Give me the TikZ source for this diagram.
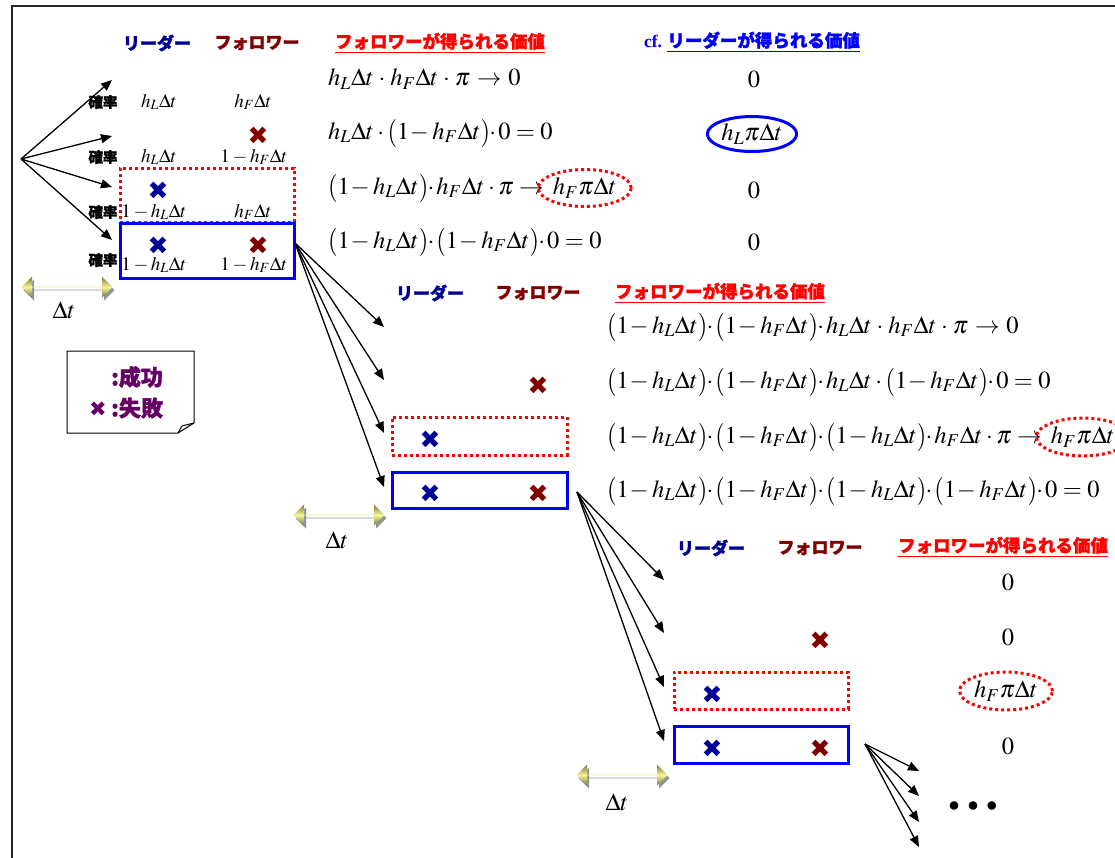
\documentclass[tikz,border=0pt]{standalone}
\usepackage{mathptmx}
\usepackage[no-math]{fontspec}
\setmainfont{Liberation Serif}
\newfontfamily\jp[BoldFeatures={FakeBold=1.6}]{Noto Sans CJK JP}
\newfontfamily\dvs{DejaVu Sans}
\usetikzlibrary{shapes.geometric,shapes.arrows,shadows,arrows.meta}
\definecolor{navy}{RGB}{0,0,150}
\definecolor{dred}{RGB}{128,0,0}
\definecolor{lpurple}{RGB}{102,0,102}
\definecolor{olivec}{RGB}{120,120,55}
\definecolor{palec}{RGB}{245,245,150}
\newcommand{\dT}{\Delta t}
\newcommand{\lp}{\mathopen{\vcenter{\hbox{\scalebox{1}[1.15]{$($}}}}}
\newcommand{\rp}{\mathclose{\vcenter{\hbox{\scalebox{1}[1.15]{$)$}}}}}
\newcommand{\pd}{\mkern-3mu\cdot\mkern-1mu}
\newcommand{\mn}{\mkern-2mu-}
\newcommand{\md}{\mkern1mu\cdot\mkern1mu}
\newcommand{\ar}{\mkern1mu\rightarrow\mkern1mu}
\tikzset{
  hdr/.style={inner sep=0, font=\jp\bfseries\fontsize{17.5}{17.5}\selectfont},
  hdrL/.style={hdr, text=navy, font=\jp\bfseries\fontsize{17}{17}\selectfont},
  hdrF/.style={hdr, text=dred, font=\jp\bfseries\fontsize{17}{17}\selectfont},
  hdrV/.style={hdr, text=red},
  eq/.style={anchor=west, inner sep=0, font=\fontsize{24.5}{28}\selectfont},
  val/.style={inner sep=0, font=\fontsize{24.5}{28}\selectfont},
  colt/.style={inner sep=0, font=\fontsize{19}{22}\selectfont},
  prob/.style={inner sep=0, font=\jp\bfseries\fontsize{14.5}{15}\selectfont},
  crossL/.style={inner sep=0, font=\dvs\fontsize{25}{25}\selectfont, text=navy},
  crossF/.style={inner sep=0, font=\dvs\fontsize{25}{25}\selectfont, text=dred},
  redbox/.style={draw=red, line width=3pt, dash pattern=on 3pt off 3pt, minimum width=174pt, inner sep=0},
  bluebox/.style={draw=blue, line width=3pt, minimum width=174pt, inner sep=0},
  redell/.style={ellipse, draw=red, line width=3pt, dash pattern=on 3pt off 3pt, inner sep=1pt, font=\fontsize{24.5}{28}\selectfont},
  blueell/.style={ellipse, draw=blue, line width=3pt, inner sep=1pt, font=\fontsize{24.5}{28}\selectfont},
  arr/.style={-{Triangle[length=11pt,width=9pt]}, line width=1.3pt},
  dtarrow/.style={double arrow, double arrow head extend=5pt, minimum height=91pt, minimum width=21pt, inner sep=0,
     top color=olivec, bottom color=olivec!85!gray, middle color=palec, draw=none,
     drop shadow={shadow xshift=2pt, shadow yshift=-3pt, fill=gray!85, opacity=1}},
  dtlabel/.style={inner sep=0, font=\fontsize{24.5}{28}\selectfont},
  legtext/.style={inner sep=0, anchor=west, text=lpurple, font=\jp\bfseries\fontsize{22}{22}\selectfont},
}
\begin{document}
\begin{tikzpicture}[x=1pt,y=-1pt]
\useasboundingbox (0,0) rectangle (1115,857);
% frame
\draw[line width=2pt, black!85] (1120,6) -- (12,6) -- (12,862);

%%%%%%%% Tier 1
\node[hdrL] (h1L) at (157,43) {リーダー};
\node[hdrF] (h1F) at (257,43) {フォロワー};
\node[hdrV] (h1V) at (440,43) {\underline{フォロワーが得られる価値}};
\node[hdr, text=blue] (h1C) at (752,42) {{\rmfamily\bfseries cf.} \underline{リーダーが得られる価値}};

\coordinate (r0) at (21,159);
\coordinate (t11) at (112,80);
\coordinate (t12) at (112,136);
\coordinate (t13) at (112,187);
\coordinate (t14) at (112,240);
\foreach \t in {t11,t12,t13,t14} \draw[arr] (r0) -- (\t);

\node[prob] (p1) at (103,102) {確率};
\node[prob] (p2) at (103,157) {確率};
\node[prob] (p3) at (103,212) {確率};
\node[prob] (p4) at (103,260) {確率};

\node[redbox, minimum height=54pt] (rb1) at (207,195) {};
\node[bluebox, minimum height=55pt] (bb1) at (207,250.5) {};

\node[colt] (l1) at (159,102) {$h_L\dT$};
\node[colt] (l2) at (159,157) {$h_L\dT$};
\node[colt] (l3) at (154,212) {$1-h_L\dT$};
\node[colt] (l4) at (154,265) {$1-h_L\dT$};
\node[colt] (f1) at (253,102) {$h_F\dT$};
\node[colt] (f2) at (254,157) {$1-h_F\dT$};
\node[colt] (f3) at (253,212) {$h_F\dT$};
\node[colt] (f4) at (254,265) {$1-h_F\dT$};

\node[crossF] (x1a) at (258,136) {✖};
\node[crossL] (x1b) at (158,191) {✖};
\node[crossL] (x1c) at (158,246) {✖};
\node[crossF] (x1d) at (258,246) {✖};

\node[eq] (e11) at (328,79) {$h_L\dT\md h_F\dT\md\pi\ar 0$};
\node[eq] (e12) at (328,133) {$h_L\dT\cdot\lp 1\mn h_F\dT\rp\pd 0=0$};
\node[eq] (e13) at (328,188) {$\lp 1\mn h_L\dT\rp\pd h_F\dT\cdot\pi\rightarrow$};
\node[redell, anchor=west, minimum width=80pt, minimum height=37pt] (o13) at ([xshift=-7pt]e13.east) {$h_F\pi\dT$};
\node[eq] (e14) at (328,242) {$\lp 1\mn h_L\dT\rp\pd\lp 1\mn h_F\dT\rp\pd 0=0$};

\node[val] (v11) at (754,79) {$0$};
\node[blueell, minimum width=84pt, minimum height=35pt] (v12) at (752,134) {$h_L\pi\dT$};
\node[val] (v13) at (754,190) {$0$};
\node[val] (v14) at (754,242) {$0$};

\node[dtarrow] (d1) at (67,287) {};
\node[dtlabel] (d1l) at (64,310) {$\Delta t$};

%%%%%%%% Legend
\coordinate (g1) at (67,351);
\coordinate (g2) at (194,351);
\coordinate (g3) at (194,423);
\coordinate (g4) at (178,433);
\coordinate (g5) at (67,433);
\coordinate (g6) at (182,426);
\draw[line width=1pt] (g1) -- (g2) -- (g3) -- (g4) -- (g5) -- cycle;
\draw[line width=1pt] (g3) -- (g6) -- (g4);
\node[legtext] (lg1) at (111,377) {:成功};
\node[inner sep=0, text=lpurple, font=\dvs\fontsize{21}{21}\selectfont] (lgx) at (98,409) {✖};
\node[legtext] (lg2) at (111,408) {:失敗};

%%%%%%%% Tier 2
\node[hdrL] (h2L) at (430,293) {リーダー};
\node[hdrF] (h2F) at (538,293) {フォロワー};
\node[hdrV] (h2V) at (720,293) {\underline{フォロワーが得られる価値}};

\coordinate (s1) at (295,243);
\coordinate (t21) at (384,327);
\coordinate (t22) at (384,380);
\coordinate (t23) at (384,433);
\coordinate (t24) at (384,487);
\foreach \t in {t21,t22,t23,t24} \draw[arr] (s1) -- (\t);

\node[redbox, minimum width=175pt, minimum height=38pt] (rb2) at (479.5,436) {};
\node[bluebox, minimum width=175pt, minimum height=36pt] (bb2) at (479.5,490) {};
\node[crossF] (x2a) at (538,386) {✖};
\node[crossL] (x2b) at (430,440) {✖};
\node[crossL] (x2c) at (430,494) {✖};
\node[crossF] (x2d) at (538,494) {✖};

\node[eq] (e21) at (607,327) {$\lp 1\mn h_L\dT\rp\pd\lp 1\mn h_F\dT\rp\pd h_L\dT\md h_F\dT\md\pi\ar 0$};
\node[eq] (e22) at (607,382) {$\lp 1\mn h_L\dT\rp\pd\lp 1\mn h_F\dT\rp\pd h_L\dT\cdot\lp 1\mn h_F\dT\rp\pd 0=0$};
\node[eq] (e23) at (607,437) {$\lp 1\mn h_L\dT\rp\pd\lp 1\mn h_F\dT\rp\pd\lp 1\mn h_L\dT\rp\pd h_F\dT\cdot\pi\rightarrow$};
\node[redell, anchor=west, minimum width=76pt, minimum height=38pt] (o23) at ([xshift=-7pt]e23.east) {$h_F\pi\dT$};
\node[eq] (e24) at (607,491) {$\lp 1\mn h_L\dT\rp\pd\lp 1\mn h_F\dT\rp\pd\lp 1\mn h_L\dT\rp\pd\lp 1\mn h_F\dT\rp\pd 0=0$};

\node[dtarrow] (d2) at (339,515) {};
\node[dtlabel] (d2l) at (337,540) {$\Delta t$};

%%%%%%%% Tier 3
\node[hdrL] (h3L) at (711,548) {リーダー};
\node[hdrF] (h3F) at (820,548) {フォロワー};
\node[hdrV] (h3V) at (1003,547) {\underline{フォロワーが得られる価値}};

\coordinate (s2) at (577,492);
\coordinate (t31) at (664,580);
\coordinate (t32) at (664,633);
\coordinate (t33) at (664,687);
\coordinate (t34) at (664,741);
\foreach \t in {t31,t32,t33,t34} \draw[arr] (s2) -- (\t);

\node[redbox, minimum height=37pt] (rb3) at (761,690.5) {};
\node[bluebox, minimum height=37pt] (bb3) at (761,744.5) {};
\node[crossF] (x3a) at (820,641) {✖};
\node[crossL] (x3b) at (712,695) {✖};
\node[crossL] (x3c) at (712,749) {✖};
\node[crossF] (x3d) at (820,749) {✖};

\node[val] (v31) at (1008,582) {$0$};
\node[val] (v32) at (1008,637) {$0$};
\node[redell, minimum width=84pt, minimum height=38pt] (v33) at (1006,691) {$h_F\pi\dT$};
\node[val] (v34) at (1008,746) {$0$};

\node[dtarrow] (d3) at (622,775) {};
\node[dtlabel] (d3l) at (617,802) {$\Delta t$};

\coordinate (s3) at (865,744);
\coordinate (t41) at (919,771);
\coordinate (t42) at (919,796);
\coordinate (t43) at (919,822);
\coordinate (t44) at (919,847);
\foreach \t in {t41,t42,t43,t44} \draw[arr] (s3) -- (\t);

\node[inner sep=0, font=\fontsize{22}{22}\selectfont] (dots) at (973,807) {$\bullet\mkern4mu\bullet\mkern4mu\bullet$};
\end{tikzpicture}
\end{document}
